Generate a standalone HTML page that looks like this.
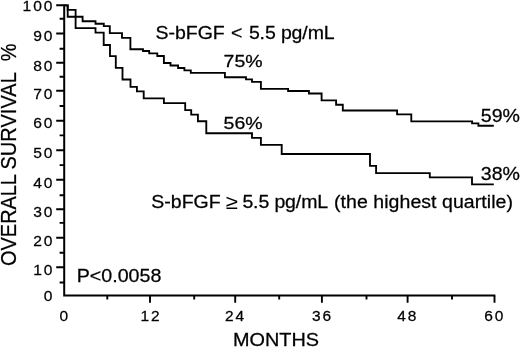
<!DOCTYPE html>
<html><head><meta charset="utf-8"><title>Overall survival</title>
<style>
html,body{margin:0;padding:0;background:#fff;}
body{width:520px;height:348px;overflow:hidden;}
svg{display:block;}
text{font-family:"Liberation Sans",Arial,Helvetica,sans-serif;fill:#000;stroke:#000;stroke-width:0.25px;}
.t{font-size:15px;letter-spacing:1.9px;}
.u{font-size:15.2px;letter-spacing:1.9px;}
.b{font-size:18px;}
.p{font-size:17.3px;}
.q{font-size:18.5px;}
.r{font-size:22px;}
</style></head><body>
<svg width="520" height="348" viewBox="0 0 520 348">
<rect width="520" height="348" fill="#fff"/>
<path d="M64.2 4.3999999999999995V295.4H495.29999999999995" fill="none" stroke="#000" stroke-width="2"/>
<path d="M56.2 5.30H64.2M59.6 18.80H64.2M56.2 33.50H64.2M59.6 48.80H64.2M56.2 62.80H64.2M59.6 76.80H64.2M56.2 90.80H64.2M59.6 106.00H64.2M56.2 120.80H64.2M59.6 135.40H64.2M56.2 150.30H64.2M59.6 165.10H64.2M56.2 179.80H64.2M59.6 195.30H64.2M56.2 209.20H64.2M59.6 222.90H64.2M56.2 237.80H64.2M59.6 252.80H64.2M56.2 267.30H64.2M59.6 282.50H64.2M107.30 295.4V299.59999999999997M150.00 295.4V302.7M194.20 295.4V299.59999999999997M235.20 295.4V302.7M279.20 295.4V299.59999999999997M321.90 295.4V302.7M366.50 295.4V299.59999999999997M407.60 295.4V302.7M452.00 295.4V299.59999999999997M494.50 295.4V302.7" fill="none" stroke="#000" stroke-width="1.9"/>
<path d="M64.2 5.3H67.7V9.8H75.6V16.8H82.6V21.2H95.5V23.7H103.8V26.1H109.8V33.1H122.0V37.9H130.4V49.2H143V51.0H149.2V53.4H157.3V56.0H163.9V63.0H170.5V65.5H178.1V68.0H184.4V70.4H190.8V72.8H224.9V77.2H246V79.3H252V81.9H260.9V88.8H288.1V91.0H308.9V93.5H321.6V100.4H336.1V104.7H342.8V110.5H397.1V114.4H411.3V121.4H472.1V123.4H478.4V125.7H493.8" fill="none" stroke="#000" stroke-width="1.85" stroke-linejoin="miter"/>
<path d="M64.2 5.3H67.7V16.8H75.6V28.1H95.5V32.6H103.7V45.0H110V56.1H115.8V67.8H122.5V79.5H130.5V86.8H136.9V91.4H143.7V98.4H163.9V103.1H185.2V110.1H191.2V114.6H197.9V121.2H206.3V133.2H252V137.9H260.9V144.9H281.7V154.0H370V165.9H376.1V173.1H429.8V177.3H472V184.4H493.8" fill="none" stroke="#000" stroke-width="1.85" stroke-linejoin="miter"/>
<text transform="translate(54.476 11.1) scale(1.04 1)" class="t" text-anchor="end">100</text>
<text transform="translate(54.476 40.5) scale(1.04 1)" class="t" text-anchor="end">90</text>
<text transform="translate(54.476 70.9) scale(1.04 1)" class="t" text-anchor="end">80</text>
<text transform="translate(54.476 98.7) scale(1.04 1)" class="t" text-anchor="end">70</text>
<text transform="translate(54.476 128.2) scale(1.04 1)" class="t" text-anchor="end">60</text>
<text transform="translate(54.476 157.8) scale(1.04 1)" class="t" text-anchor="end">50</text>
<text transform="translate(54.476 187.5) scale(1.04 1)" class="t" text-anchor="end">40</text>
<text transform="translate(54.476 217.2) scale(1.04 1)" class="t" text-anchor="end">30</text>
<text transform="translate(54.476 245.5) scale(1.04 1)" class="t" text-anchor="end">20</text>
<text transform="translate(54.476 274.8) scale(1.04 1)" class="t" text-anchor="end">10</text>
<text transform="translate(54.476 300.8) scale(1.04 1)" class="t" text-anchor="end">0</text>
<text transform="translate(64.8 320.5) scale(1.02 1)" class="u" text-anchor="middle">0</text>
<text transform="translate(151.0 320.5) scale(1.02 1)" class="u" text-anchor="middle">12</text>
<text transform="translate(235.5 320.5) scale(1.02 1)" class="u" text-anchor="middle">24</text>
<text transform="translate(322.5 320.5) scale(1.02 1)" class="u" text-anchor="middle">36</text>
<text transform="translate(407.7 320.5) scale(1.02 1)" class="u" text-anchor="middle">48</text>
<text transform="translate(494.8 320.5) scale(1.02 1)" class="u" text-anchor="middle">60</text>
<text transform="translate(233.0 346.3) scale(1.105 1)" class="b">MONTHS</text>
<text transform="translate(16.2 0) rotate(-90) scale(0.905 1)" class="r"><tspan x="-293.81">OVERALL</tspan> <tspan x="-187.40" style="letter-spacing:0.13px">SURVIVAL</tspan> <tspan x="-67.62">%</tspan></text>
<text transform="translate(0 39.2) scale(1.084 1)" class="b"><tspan x="143.36">S-bFGF</tspan> <tspan x="213.10">&lt;</tspan> <tspan x="229.61" style="letter-spacing:-0.12px">5.5 pg/mL</tspan></text>
<text transform="translate(0 207.6) scale(1.084 1)" class="b"><tspan x="139.58">S-bFGF</tspan> <tspan x="208.12" dy="0.9" style="font-size:20.5px;stroke-width:0;letter-spacing:-1px">≥</tspan> <tspan x="223.62" dy="-0.9" style="letter-spacing:-0.12px">5.5 pg/mL</tspan> <tspan x="308.12" style="letter-spacing:0.05px">(the highest quartile)</tspan></text>
<text transform="translate(223.6 67.2) scale(1.128 1)" class="p">75%</text>
<text transform="translate(223.6 128.5) scale(1.128 1)" class="p">56%</text>
<text transform="translate(480.8 121.8) scale(1.058 1)" class="q">59%</text>
<text transform="translate(480.8 180.3) scale(1.058 1)" class="q">38%</text>
<text transform="translate(76.7 281.5) scale(1.058 1)" class="q" style="font-size:18.6px">P&lt;0.0058</text>
</svg>
</body></html>
